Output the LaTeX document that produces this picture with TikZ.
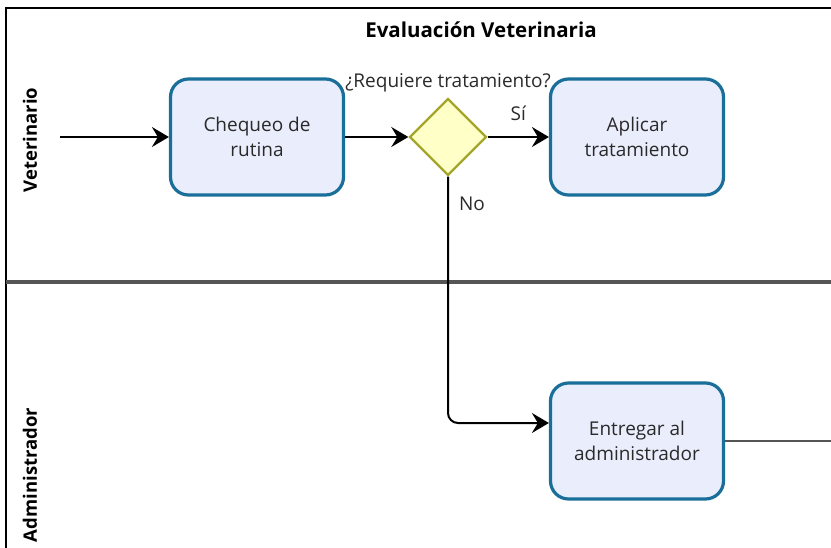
\documentclass[tikz,border=0pt]{standalone}
\usepackage{fontspec}
\setmainfont{Open Sans}
\usepackage{tikz}
\usetikzlibrary{arrows.meta}
\usetikzlibrary{positioning}
\usetikzlibrary{shapes.geometric}
\definecolor{taskfill}{HTML}{EAEEFC}
\definecolor{taskdraw}{HTML}{1A6E9A}
\definecolor{gwfill}{HTML}{FFFFC8}
\definecolor{gwdraw}{HTML}{A5A52A}
\definecolor{txtgray}{HTML}{2A2A2A}
\definecolor{lanegray}{HTML}{555555}
\newcommand{\tnode}[3]{\node(#1)[task] at (#2){#3}}
\newcommand{\lanelabel}[3]{\node(#1)[lane] at (#2){#3}}

\begin{document}
\begin{tikzpicture}[
        x=1pt, y=-1pt,
        every node/.style={font=\fontsize{19}{25}\selectfont, text=txtgray},
        task/.style={rectangle, rounded corners=18pt, minimum width=173pt,
                     minimum height=116pt, line width=3.2pt, draw=taskdraw,
                     fill=taskfill, align=center, inner sep=0pt},
        gateway/.style={diamond, aspect=1, minimum width=77pt, minimum height=77pt,
                        line width=2.4pt, draw=gwdraw, fill=gwfill, inner sep=0pt},
        lane/.style={rotate=90, font=\fontsize{18.5}{22}\selectfont\bfseries, text=black},
        flow/.style={line width=2pt, -{Stealth[length=17pt, width=20pt, inset=6pt]}},
        tag/.style={inner sep=0pt}
      ]
      \useasboundingbox (0,0) rectangle (831,548);

      % pool frame and lanes
      \coordinate (frameTL) at (6,8);
      \coordinate (frameTR) at (831,8);
      \coordinate (frameBL) at (6,548);
      \coordinate (sepL) at (6,282);
      \coordinate (sepR) at (831,282);
      \draw[line width=2.2pt] (frameTR) -- (frameTL) -- (frameBL);
      \draw[line width=3.2pt, lanegray] (sepL) -- (sepR);

      \node(title)[font=\fontsize{20.5}{24}\selectfont\bfseries, text=black] at (481,30) {Evaluación Veterinaria};
      \lanelabel{vet}{30,140}{Veterinario};
      \lanelabel{adm}{30,475}{Administrador};

      % tasks and gateway
      \tnode{chequeo}{257,137}{Chequeo de\\rutina};
      \tnode{aplicar}{637,137}{Aplicar\\tratamiento};
      \tnode{entregar}{637,441}{Entregar al\\administrador};
      \node(gw)[gateway] at (448,137) {};
      \node(gwlabel)[tag, above=5pt of gw] {¿Requiere tratamiento?};

      \coordinate (start) at (60,137);
      \coordinate (out) at (831,441);

      % flows
      \draw[flow] (start) -- (chequeo);
      \draw[flow] (chequeo) -- (gw);
      \draw[flow] (gw) -- node[tag, above=15pt, pos=0.5] {Sí} (aplicar);
      \draw[flow, rounded corners=10pt] (gw.south) |- node[tag, pos=0.055, right=10pt] {No} ([yshift=18pt]entregar.west);
      \draw[line width=2pt, lanegray] (entregar) -- (out);
    \end{tikzpicture}
\end{document}
